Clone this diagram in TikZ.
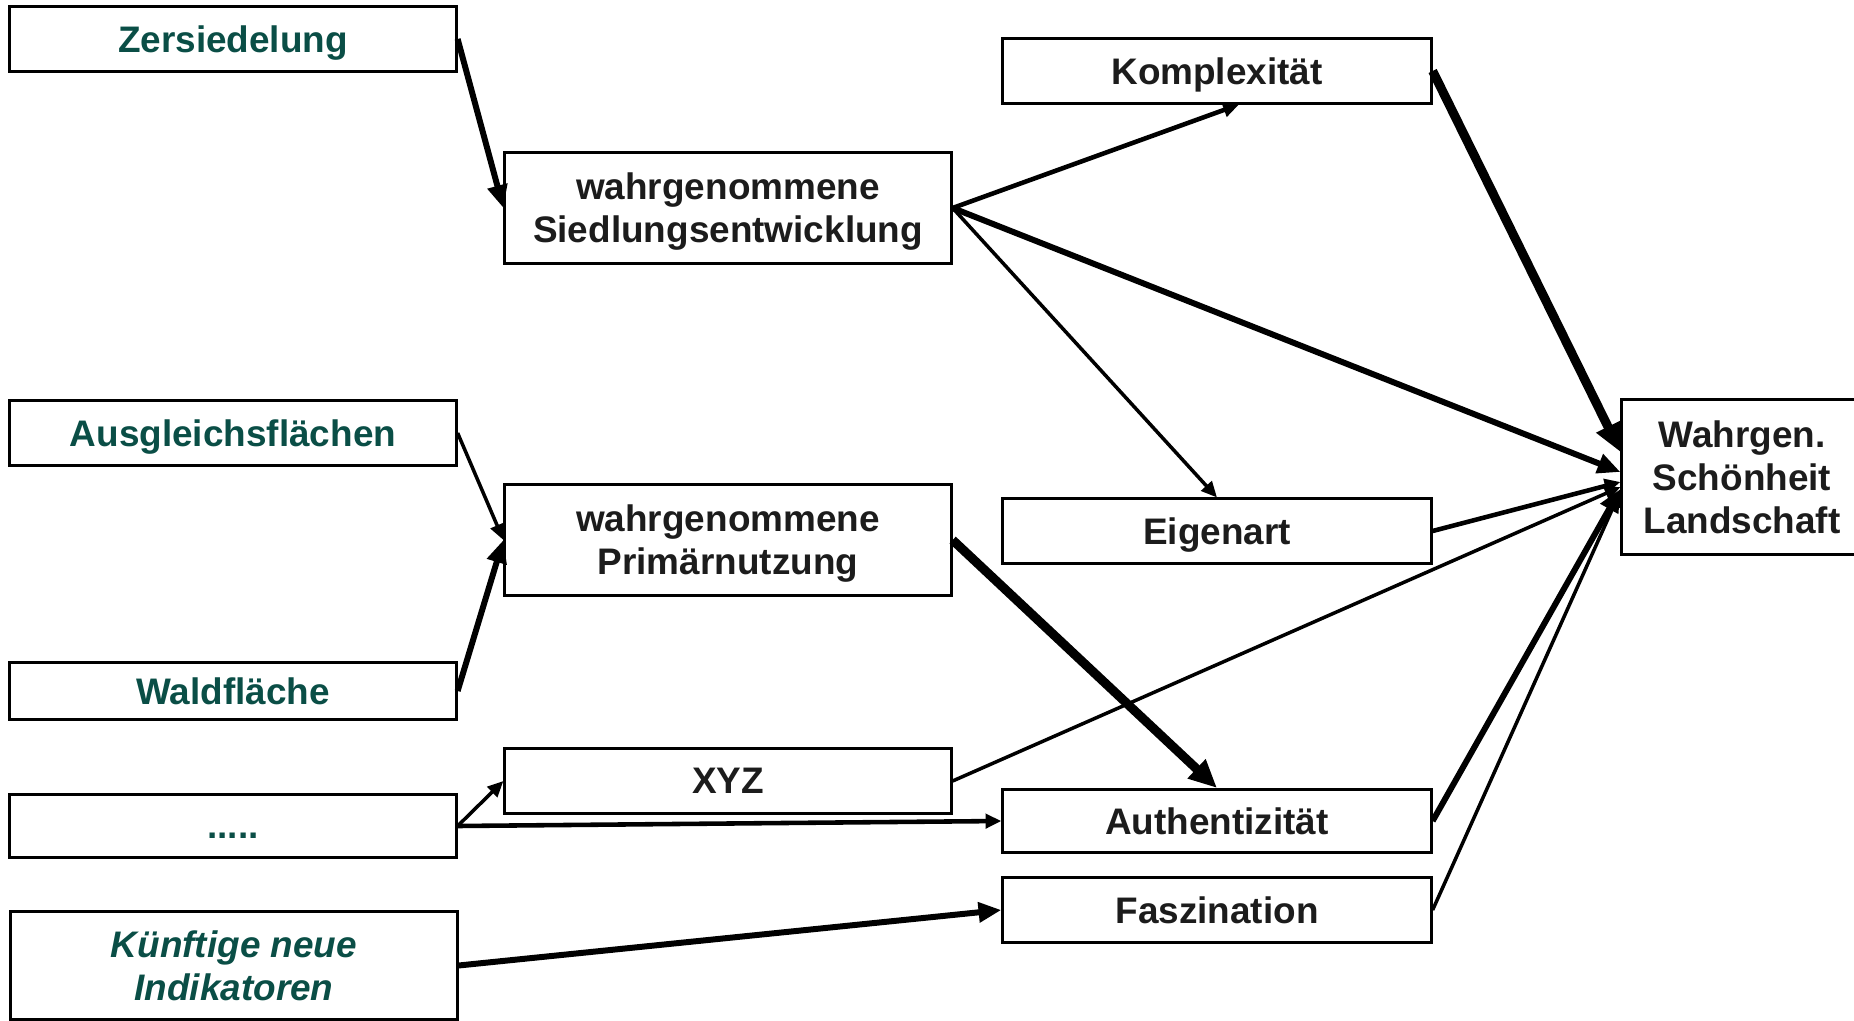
\documentclass[tikz,border=0pt]{standalone}
\usepackage{fontspec}
\setmainfont{Liberation Sans}
\usetikzlibrary{calc,arrows.meta,positioning}
\definecolor{indgreen}{RGB}{10,78,70}
\definecolor{textgray}{RGB}{28,28,28}
\tikzset{
    every node/.style={font=\bfseries\fontsize{10.5}{12.2}\selectfont},
    main node/.style={shape=rectangle, draw, line width=0.85pt,
    	align=center, inner sep=0pt, text depth=0pt, fill=white, text=textgray},
    ind node/.style={main node, text=indgreen,
    	minimum width=4.46cm, minimum height=0.64cm},
    mid node/.style={main node, minimum width=4.46cm},
    dim node/.style={main node, minimum width=4.28cm, minimum height=0.64cm},
    thin arrow/.style={->, line width=1pt},
    mid arrow/.style={->, line width=1.3pt},
    thick arrow/.style={->, line width=1.7pt, >={Triangle[length=6.5pt,width=5.5pt]}},
    heavy arrow/.style={->, line width=2.6pt, >={Triangle[length=8pt,width=7pt]}}
}

\begin{document}
\begin{tikzpicture}[x=0.01cm,y=-0.01cm,>={Triangle[length=4.5pt,width=4pt]}]
    \useasboundingbox (0,0) rectangle (1854,1021);
    \fill[white] (0,0) rectangle (1854,1021);

    % Indikatoren (links)
    \node[ind node] (1) at (233,39) {Zersiedelung};
    \node[ind node] (2) at (233,433) {Ausgleichsflächen};
    \node[ind node, minimum height=0.57cm] (3) at (233,691) {Waldfläche};
    \node[ind node, minimum height=0.63cm] (4) at (233,826) {\raisebox{-0.12cm}{.....}};
    \node[ind node, minimum height=1.07cm] (5) at (234,965.5) {\itshape Künftige neue\\\itshape Indikatoren};

    % Wahrnehmung (Mitte)
    \node[mid node, minimum height=1.11cm] (6) at (728,208) {wahrgenommene\\Siedlungsentwicklung};
    \node[mid node, minimum height=1.10cm] (7) at (728,540) {wahrgenommene\\Primärnutzung};
    \node[mid node, minimum height=0.65cm] (8) at (728,781) {XYZ};

    % Dimensionen
    \node[dim node] (9) at (1217,71) {Komplexität};
    \node[dim node] (10) at (1217,531) {Eigenart};
    \node[dim node, minimum height=0.63cm] (11) at (1217,821) {Authentizität};
    \node[dim node] (12) at (1217,910) {Faszination};

    \node[main node, minimum width=2.40cm, minimum height=1.55cm] (13) at (1742,477) {Wahrgen.\\Schönheit\\Landschaft};

    % Pfeile
    \draw[thick arrow] (1.east) -- (6.west);
    \draw[thin arrow] (2.east) -- (7.west);
    \draw[thick arrow] (3.east) -- (7.west);
    \draw[thin arrow] (4.east) -- (8.west);
    \draw[mid arrow] (4.east) -- (11.west);
    \draw[thick arrow] (5.east) -- (12.west);

    \draw[mid arrow] (6.east) -- ($(9.south)+(22,0)$);
    \draw[thin arrow] (6.east) -- (10.north);
    \draw[thick arrow] (6.east) -- ($(13.west)+(0,-5)$);
    \draw[heavy arrow] (7.east) -- (11.north);
    \draw[thin arrow] (8.east) -- ($(13.west)+(0,10)$);

    \draw[heavy arrow] (9.east) -- ($(13.west)+(0,-25)$);
    \draw[mid arrow] (10.east) -- ($(13.west)+(0,5)$);
    \draw[thick arrow] (11.east) -- ($(13.west)+(0,12)$);
    \draw[thin arrow] (12.east) -- ($(13.west)+(0,14)$);
\end{tikzpicture}
\end{document}
